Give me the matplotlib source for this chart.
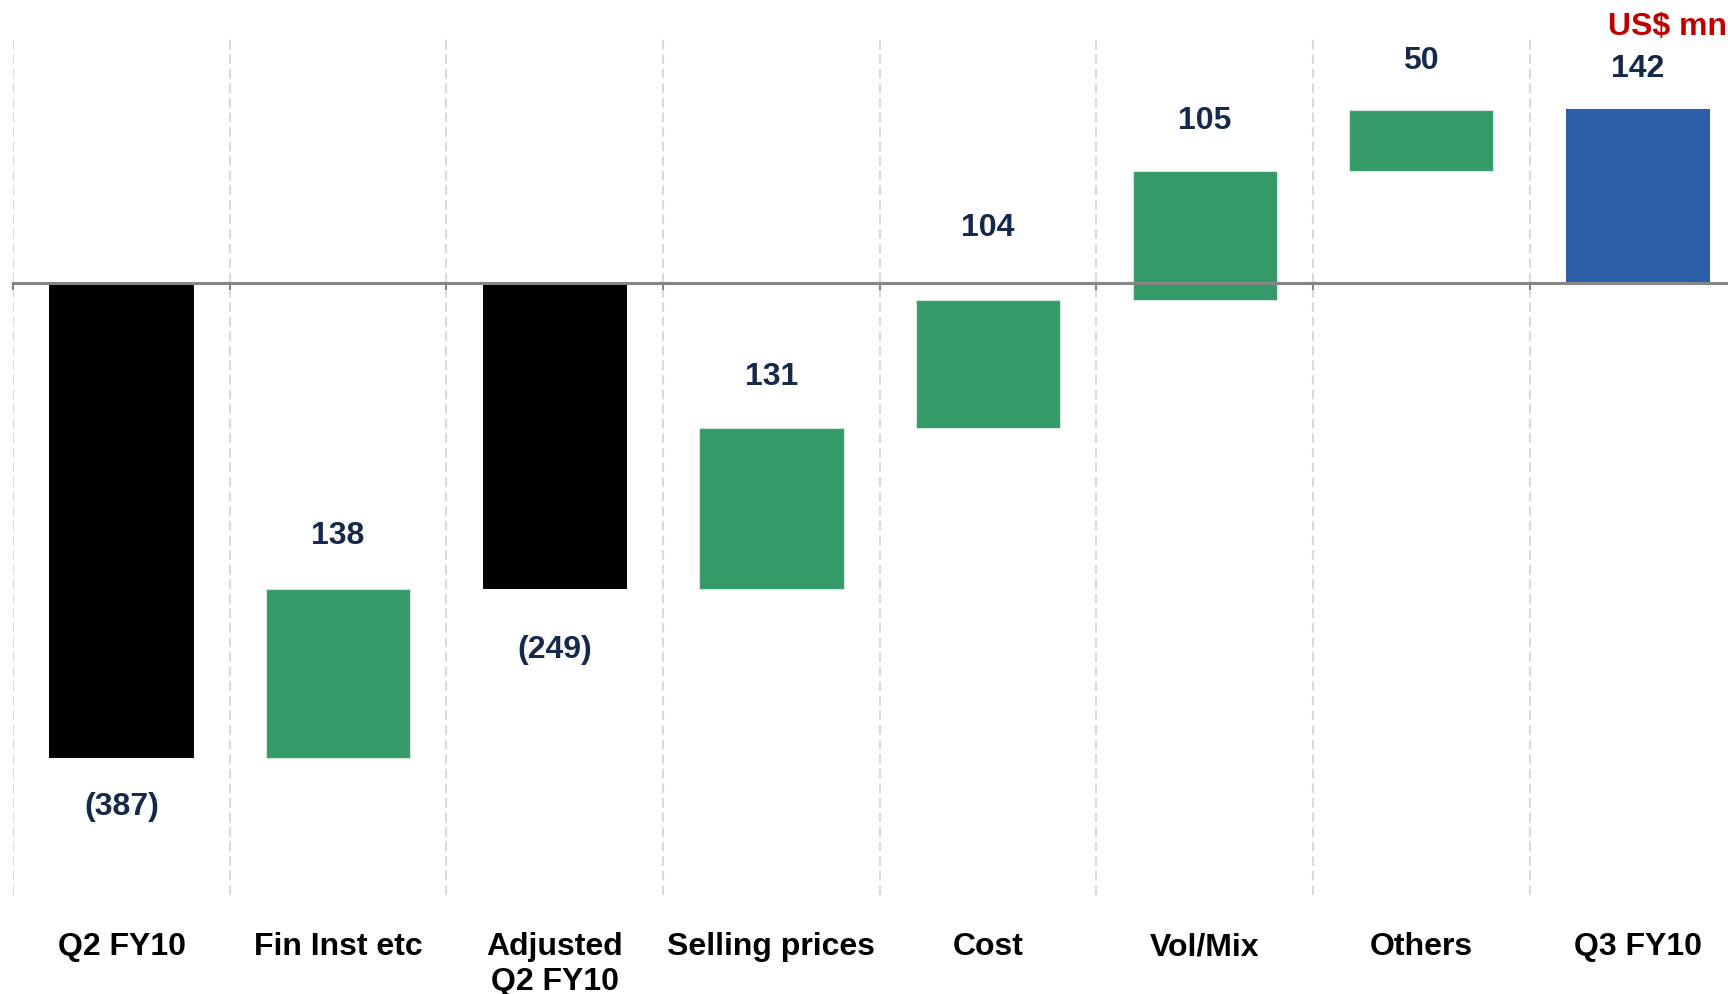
import matplotlib
matplotlib.use("Agg")
import matplotlib.pyplot as plt
import matplotlib.transforms as mtransforms

# ---- data ----
categories = ["Q2 FY10", "Fin Inst etc", "Adjusted\nQ2 FY10", "Selling prices",
              "Cost", "Vol/Mix", "Others", "Q3 FY10"]
values = [-387, 138, -249, 131, 104, 105, 50, 142]
kinds = ["total", "delta", "total", "delta", "delta", "delta", "delta", "total"]
unit_label = "US$ mn"

# ---- styles ----
colors = {"total_neg": "#000000", "total_pos": "#2c5fa8", "delta": "#349a68"}
label_offsets_pt = [35, 38, 44, 37, 52, 36.5, 35, 28.6]  # distance from bar end to label centre
navy = "#17294a"
fs = 23

plt.rcParams['font.family'] = ['Liberation Sans', 'DejaVu Sans']

fig = plt.figure(figsize=(17.28, 9.94), dpi=100)
ax = fig.add_axes([12 / 1568, 1 - 812 / 902, 1 - 12 / 1568, (812 - 33) / 902])

running = 0
bottoms, heights, fc = [], [], []
for v, k in zip(values, kinds):
    if k == "total":
        bottoms.append(0)
        heights.append(v)
        running = v
        fc.append(colors["total_neg"] if v < 0 else colors["total_pos"])
    else:
        bottoms.append(running)
        heights.append(v)
        running += v
        fc.append(colors["delta"])

x = list(range(len(categories)))
bars = ax.bar(x, heights, bottom=bottoms, width=0.666, color=fc, zorder=2)
for b, k in zip(bars, kinds):
    if k == "delta":
        b.set_edgecolor("#d5e8dd")
        b.set_linewidth(0.8)

# separators
for i in range(len(categories)):
    ax.axvline(i - 0.5, color="#d9d9d9", lw=1.5, ls=(0, (4.5, 2.5)), zorder=1)

# zero line as bottom spine
ax.set_xlim(-0.5, -0.5 + 1556 / 196.57)
ax.set_ylim(-498, 201)
for s in ["top", "right", "left"]:
    ax.spines[s].set_visible(False)
ax.spines["bottom"].set_position(("data", 0))
ax.spines["bottom"].set_color("#868686")
ax.spines["bottom"].set_linewidth(2.2)
ax.spines["bottom"].set_zorder(3)
ax.set_xticks([i - 0.5 for i in range(len(categories))])
ax.tick_params(axis="x", direction="out", length=5, width=1.5, color="#868686", labelbottom=False)
ax.set_yticks([])
ax.patch.set_visible(False)

# value labels
for i, (v, k, bt, h, off) in enumerate(zip(values, kinds, bottoms, heights, label_offsets_pt)):
    txt = f"({abs(v)})" if v < 0 else f"{v}"
    if k == "total" and v < 0:
        y = bt + h
        dy = -off
    else:
        y = max(bt, bt + h)
        dy = off
    ax.annotate(txt, (i, y), xytext=(0, dy), textcoords="offset points",
                ha="center", va="center", fontsize=fs, fontweight="bold", color=navy)

# category labels
trans = mtransforms.blended_transform_factory(ax.transData, fig.transFigure)
for i, c in enumerate(categories):
    ax.text(i, 1 - 932 / 994, c, transform=trans, ha="center", va="top",
            fontsize=fs, fontweight="bold", color="#000000", linespacing=1.2)

fig.text(1727 / 1728, 1 - 27.5 / 994, unit_label, ha="right", va="center",
         fontsize=fs, fontweight="bold", color="#c00000")

fig.savefig("out.png", dpi=100)
